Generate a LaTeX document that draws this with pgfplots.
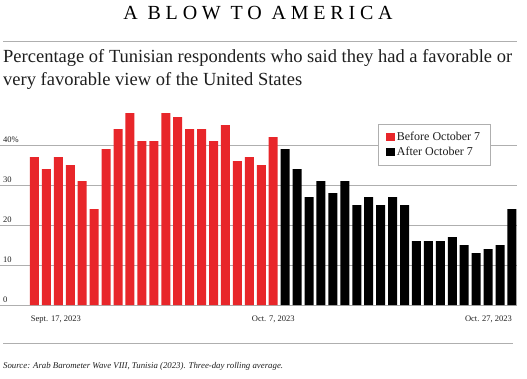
\documentclass[border=0pt]{standalone}
\usepackage{pgfplots}
\pgfplotsset{compat=1.18}
\usepackage{fontspec}
\setmainfont{Liberation Serif}
\definecolor{barred}{RGB}{232,38,42}
\definecolor{gridgray}{RGB}{175,175,175}
\definecolor{txt}{RGB}{30,30,30}
\begin{document}
\begin{tikzpicture}[x=1pt,y=1pt]
\useasboundingbox (0,0) rectangle (527,378);
% title
\node[anchor=base,inner sep=0pt,text=black] at (258,358.5) {\fontsize{20}{20}\selectfont\addfontfeature{LetterSpace=24}A BLOW TO AMERICA};
\draw[gridgray,line width=1pt] (3,336) -- (517,336);
\node[anchor=base west,inner sep=0pt,text=txt] at (3,315) {\fontsize{18.5}{23}\selectfont Percentage of Tunisian respondents who said they had a favorable or};
\node[anchor=base west,inner sep=0pt,text=txt] at (3,292) {\fontsize{18.5}{23}\selectfont very favorable view of the United States};
\begin{axis}[
  at={(0pt,73pt)}, anchor=south west,
  scale only axis, width=517pt, height=200pt,
  xmin=-2.89, xmax=40.42, ymin=0, ymax=50,
  axis line style={draw=none}, clip=false,
  ytick={0,10,20,30,40}, yticklabels={0,10,20,30,40\%},
  ymajorgrids, grid style={gridgray,line width=0.9pt},
  yticklabel style={anchor=south west,inner sep=0pt,xshift=3pt,yshift=2.5pt,font=\fontsize{8.5}{9}\selectfont,text=txt},
  xtick={0,20,40},
  xticklabels={{\rlap{\hspace{-3.5pt}Sept. 17, 2023}},{Oct. 7, 2023},{\llap{Oct. 27, 2023}}},
  xticklabel style={anchor=base,inner sep=0pt,yshift=-16pt,font=\fontsize{8.5}{9}\selectfont,text=txt},
  major tick length=0pt, tick style={draw=none},
  ybar, bar width=9pt, bar shift=0pt,
  legend style={at={(0.7311,0.905)},anchor=north west,draw=gridgray,line width=0.8pt,
    font=\fontsize{12}{13}\selectfont,text=txt,inner xsep=8pt,inner ysep=6pt,row sep=1pt},
  legend cell align=left,
  legend image code/.code={\fill[#1] (0pt,-4pt) rectangle (8.5pt,4.5pt);},
]
\addplot[fill=barred,draw=none] coordinates {
(0,37) (1,34) (2,37) (3,35) (4,31) (5,24) (6,39) (7,44) (8,48) (9,41)
(10,41) (11,48) (12,47) (13,44) (14,44) (15,41) (16,45) (17,36) (18,37) (19,35) (20,42)};
\addlegendentry{Before October 7}
\addplot[fill=black,draw=none] coordinates {
(21,39) (22,34) (23,27) (24,31) (25,28) (26,31) (27,25) (28,27) (29,25) (30,27)
(31,25) (32,16) (33,16) (34,16) (35,17) (36,15) (37,13) (38,14) (39,15) (40,24)};
\addlegendentry{After October 7}
\end{axis}
\draw[gridgray,line width=1pt] (3,35) -- (513,35);
\node[anchor=base west,inner sep=0pt,text=txt] at (3,10) {\fontsize{8.8}{11}\selectfont\itshape Source: Arab Barometer Wave VIII, Tunisia (2023). Three-day rolling average.};
\end{tikzpicture}
\end{document}
